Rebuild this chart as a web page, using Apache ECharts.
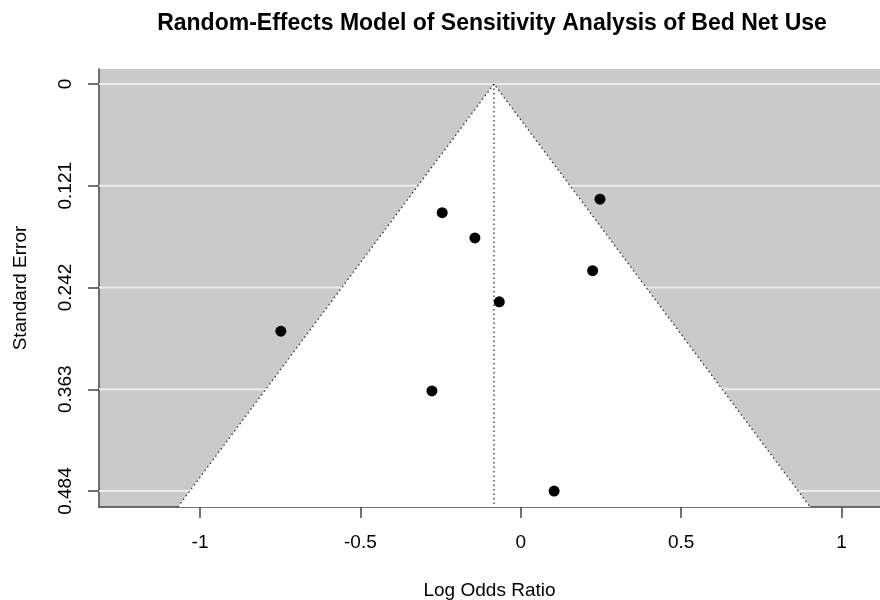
<!DOCTYPE html>
<html>
<head>
<meta charset="utf-8">
<script src="https://cdn.jsdelivr.net/npm/echarts@6/dist/echarts.min.js"></script>
<style>
  html, body { margin: 0; padding: 0; background: #fff; }
  #chart { width: 880px; height: 600px; }
</style>
</head>
<body>
<div id="chart"></div>
<script>
  // study estimates
  const logOdds = [-0.245, -0.143, 0.247, 0.224, -0.067, -0.748, -0.277, 0.104]
  const stdErr = [0.153, 0.183, 0.137, 0.222, 0.259, 0.294, 0.365, 0.484]
  const estimate = -0.0835 // pooled random-effects estimate (dotted centre line)

  const xTicks = [-1, -0.5, 0, 0.5, 1]
  const yTicks = [0, 0.121, 0.242, 0.363, 0.484]
  const xMin = -1.315
  const xMax = 1.12
  const yMin = -0.0178
  const yMax = 0.503

  const font = 'Liberation Sans, Arial, Helvetica, sans-serif'
  const axisColor = '#444'

  const chart = echarts.init(document.getElementById('chart'))

  const option = {
    animation: false,
    title: {
      text: 'Random-Effects Model of Sensitivity Analysis of Bed Net Use',
      left: 487,
      top: 7,
      textAlign: 'center',
      textStyle: { fontFamily: font, fontSize: 23, fontWeight: 'bold', color: '#000' }
    },
    grid: {
      left: 99,
      right: 0,
      top: 69,
      bottom: 93,
      outerBoundsMode: 'none',
      show: true,
      backgroundColor: '#cacaca',
      borderWidth: 0
    },
    xAxis: {
      type: 'value',
      min: xMin,
      max: xMax,
      name: 'Log Odds Ratio',
      nameLocation: 'middle',
      nameGap: 74,
      nameTextStyle: { fontFamily: font, fontSize: 19, color: '#000' },
      splitLine: { show: false },
      axisLine: { show: true, onZero: false, lineStyle: { color: axisColor, width: 1.5 } },
      axisTick: { show: true, length: 11, customValues: xTicks, lineStyle: { color: axisColor, width: 1.5 } },
      axisLabel: {
        customValues: xTicks,
        formatter: v => String(v),
        margin: 26,
        fontFamily: font,
        fontSize: 19,
        color: '#000'
      }
    },
    yAxis: {
      type: 'value',
      inverse: true,
      min: yMin,
      max: yMax,
      name: 'Standard Error',
      nameLocation: 'middle',
      nameGap: 69,
      nameTextStyle: { fontFamily: font, fontSize: 19, color: '#000' },
      splitLine: { show: false },
      axisLine: { show: true, onZero: false, lineStyle: { color: axisColor, width: 1.5 } },
      axisTick: { show: true, length: 11, customValues: yTicks, lineStyle: { color: axisColor, width: 1.5 } },
      axisLabel: {
        customValues: yTicks,
        formatter: v => String(v),
        rotate: 90,
        margin: 24,
        fontFamily: font,
        fontSize: 19,
        color: '#000'
      }
    },
    series: [
      {
        // light horizontal reference lines at the SE ticks
        type: 'custom',
        z: 1,
        silent: true,
        data: yTicks.map(v => [0, v]),
        renderItem: (params, api) => {
          const y = api.coord([0, api.value(1)])[1]
          const cs = params.coordSys
          return {
            type: 'line',
            shape: { x1: cs.x, y1: y, x2: cs.x + cs.width, y2: y },
            style: { stroke: '#ececec', lineWidth: 2 }
          }
        }
      },
      {
        // pseudo-confidence region: estimate +/- 1.96 * SE
        type: 'custom',
        z: 2,
        silent: true,
        data: [[estimate, yMax]],
        renderItem: (params, api) => {
          const c = api.value(0)
          const se = api.value(1)
          const apex = api.coord([c, 0])
          const bl = api.coord([c - 1.96 * se, se])
          const br = api.coord([c + 1.96 * se, se])
          const bc = api.coord([c, se])
          const dotted = { stroke: '#333', lineWidth: 1.3, lineDash: [1.5, 3], fill: null }
          return {
            type: 'group',
            children: [
              { type: 'polygon', shape: { points: [apex, bl, br] }, style: { fill: '#fff' } },
              { type: 'polyline', shape: { points: [bl, apex, br] }, style: dotted },
              { type: 'line', shape: { x1: apex[0], y1: apex[1], x2: bc[0], y2: bc[1] }, style: dotted }
            ]
          }
        }
      },
      {
        type: 'scatter',
        z: 3,
        symbol: 'circle',
        symbolSize: 11,
        itemStyle: { color: '#000', opacity: 1 },
        data: logOdds.map((x, i) => [x, stdErr[i]])
      }
    ]
  }

  chart.setOption(option)
</script>
</body>
</html>
